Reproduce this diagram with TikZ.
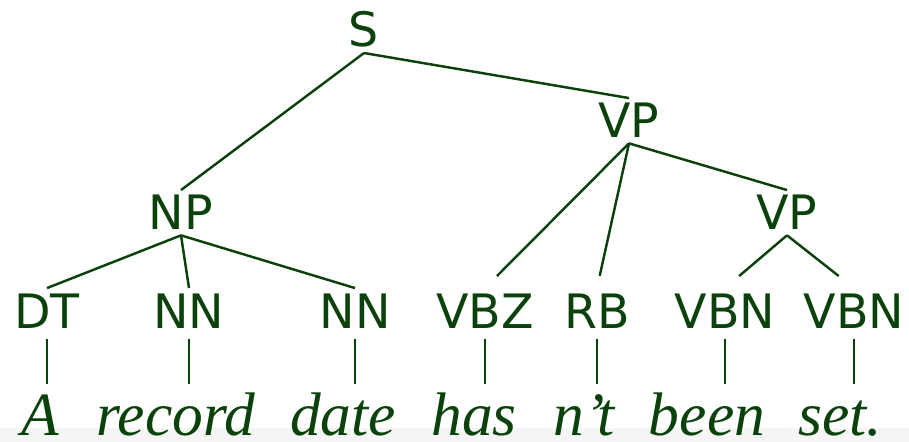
\documentclass[tikz,border=0pt]{standalone}
\usepackage{fontspec}
\newfontfamily\tagfont{DejaVu Sans}
\newfontfamily\wordfont{Liberation Serif}
\definecolor{TreeGreen}{HTML}{0B420B}
\usetikzlibrary{positioning}
\tikzset{
    % category labels
    tag/.style={
        font=\tagfont\fontsize{27}{30}\selectfont,
        text=TreeGreen,
        inner sep=0.1cm,
        anchor=base
    },
    % preterminals sit a bit higher above their line
    pos tag/.style={
        tag,
        text depth=0.12cm
    },
    % words of the sentence
    word/.style={
        font=\wordfont\fontsize{35}{40}\selectfont\itshape,
        text=TreeGreen,
        text height=0.92cm,
        inner sep=0.1cm,
        anchor=base
    },
    branch/.style={
        draw=TreeGreen,
        line width=1.4pt
    },
    short/.style={
        shorten >=#1
    }
}

\begin{document}
\begin{tikzpicture}[x=0.02cm, y=-0.02cm]
    \useasboundingbox (0,0) rectangle (909,442);
    \fill[black!4] (0,428) rectangle (909,442);

    % phrase nodes
    \node[tag] (s) at (364,47) {S};
    \node[tag] (np) at (181,230) {NP};
    \node[tag] (vp) at (629,138) {VP};
    \node[tag] (vpb) at (787,230) {VP};

    % part of speech tags
    \node[pos tag] (dt) at (47,328) {DT};
    \node[pos tag] (nna) at (189,328) {NN};
    \node[pos tag] (nnb) at (355,328) {NN};
    \node[pos tag] (vbz) at (485,328) {VBZ};
    \node[pos tag] (rb) at (597,328) {RB};
    \node[pos tag] (vbna) at (725,328) {VBN};
    \node[pos tag] (vbnb) at (854,328) {VBN};

    % the sentence
    \node[word] (wa) at (40,435) {A};
    \node[word] (wrecord) at (176,435) {record};
    \node[word] (wdate) at (343,435) {date};
    \node[word] (whas) at (474,435) {has};
    \node[word] (wnt) at (584,435) {n’t};
    \node[word] (wbeen) at (707,435) {been};
    \node[word] (wset) at (840,435) {set.};

    % branches
    \draw[branch] (s.south) -- (np.north);
    \draw[branch] (s.south) -- (vp.north);
    \draw[branch] (np.south) -- (dt.north);
    \draw[branch] (np.south) -- (nna.north);
    \draw[branch] (np.south) -- (nnb.north);
    \draw[branch, short=0.34cm] (vp.south) -- (vbz.north);
    \draw[branch, short=0.25cm] (vp.south) -- (rb.north);
    \draw[branch] (vp.south) -- (vpb.north);
    \draw[branch, short=0.37cm] (vpb.south) -- (vbna.north);
    \draw[branch, short=0.39cm] (vpb.south) -- (vbnb.north);

    % tags down to words
    \foreach \t/\w in {dt/wa, nna/wrecord, nnb/wdate, vbz/whas, rb/wnt, vbna/wbeen, vbnb/wset}
        \draw[branch] (\t.south) -- (\t.south |- \w.north);
\end{tikzpicture}
\end{document}
